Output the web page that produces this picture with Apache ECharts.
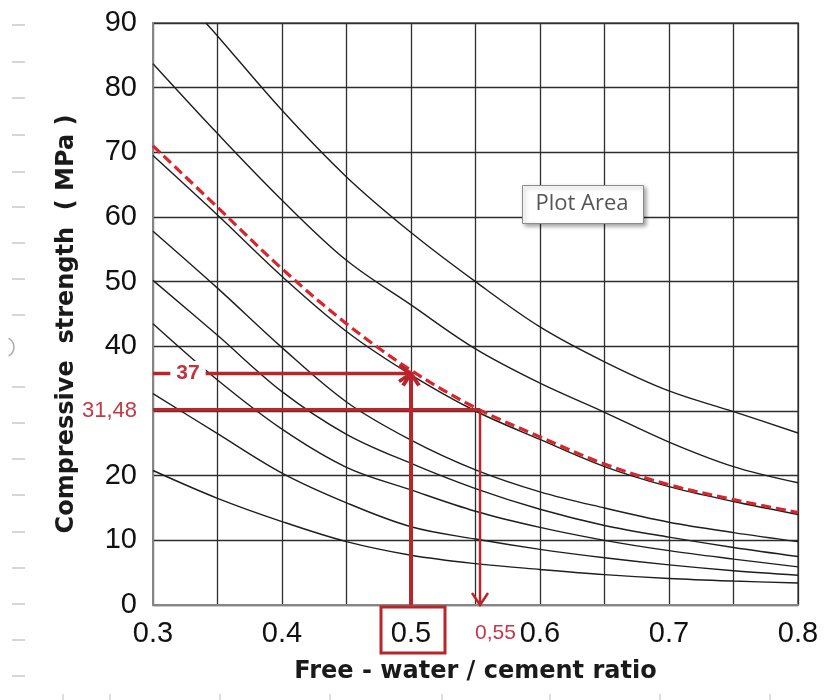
<!DOCTYPE html>
<html><head><meta charset="utf-8">
<script src="https://cdn.jsdelivr.net/npm/echarts@6/dist/echarts.min.js"></script>
<style>html,body{margin:0;padding:0;background:#fff}#chart{width:833px;height:700px}</style>
</head><body><div id="chart"></div>
<script>
// ---- data ----
const ratio = [0.3, 0.35, 0.4, 0.45, 0.5, 0.55, 0.6, 0.65, 0.7, 0.75, 0.8];
const ratioTop = [0.341, 0.35, 0.4, 0.45, 0.5, 0.55, 0.6, 0.65, 0.7, 0.75, 0.8];
const curveA = [90, 88, 76.5, 66.2, 57.6, 50, 43, 37.6, 33.1, 29.9, 26.6];
const curveB = [83.7, 72.9, 62.6, 53.3, 46.4, 39.6, 34.3, 29.8, 25.2, 21.4, 18.9];
const curveC = [69.5, 60.3, 50.8, 42.3, 35.6, 30.0, 25.6, 21.4, 18.3, 16.0, 14.0];
const curveD = [57.8, 49.0, 39.8, 31.4, 25.5, 20.9, 17.5, 15.0, 12.8, 11.2, 9.8];
const curveE = [50.2, 41.7, 33.0, 26.4, 21.9, 18.0, 14.8, 12.3, 10.5, 8.9, 7.5];
const curveF = [43.5, 34.8, 27.2, 21.3, 17.8, 14.5, 12.0, 10.0, 8.4, 7.1, 5.9];
const curveG = [32.7, 26.5, 20.4, 15.8, 12.1, 10.2, 8.6, 7.3, 6.2, 5.3, 4.6];
const curveH = [20.8, 16.5, 12.9, 9.8, 7.7, 6.4, 5.5, 4.7, 4.1, 3.7, 3.4];
const targetCurve = [71, 61.5, 52, 43.5, 36.3, 30.5, 26, 21.8, 18.6, 16.3, 14.3];
const blackCurves = [
  [ratioTop, curveA], [ratio, curveB], [ratio, curveC], [ratio, curveD],
  [ratio, curveE], [ratio, curveF], [ratio, curveG], [ratio, curveH]
];
const xTickLabels = ['0.3', '0.4', '0.5', '0.6', '0.7', '0.8'];
const yTickLabels = ['0', '10', '20', '', '40', '50', '60', '70', '80', '90'];
const ratioRead = 0.5;        // w/c read on the axis
const ratioResult = 0.5535;   // w/c found (drawn position)
const strength37 = 35.8;      // level of the "37" guide as drawn
const strength3148 = 30.2;    // level of the "31,48" guide as drawn
const guideLabels = ['37', '31,48', '0,55'];
const xTitle = 'Free - water / cement ratio';
const yTitle = 'Compressive  strength  ( MPa )';

const zip = (xs, ys) => xs.map((x, i) => [x, ys[i]]);

// guide segments: [x1, y1, x2, y2, arrowAtEnd]
const guideData = [
  [0.3, strength37, ratioRead, strength37, 1],
  [ratioRead, 0, ratioRead, strength37, 1],
  [0.3, strength3148, ratioResult, strength3148, 0],
  [ratioResult, strength3148, ratioResult, 0, 1]
];

const RED = '#b8252b';
function renderGuide(params, api) {
  const i = params.dataIndex;
  const p1 = api.coord([api.value(0), api.value(1)]);
  const p2 = api.coord([api.value(2), api.value(3)]);
  const widths = [3.5, 4, 3.5, 2.5];
  const lw = widths[i];
  const children = [{
    type: 'line', shape: {x1: p1[0], y1: p1[1], x2: p2[0], y2: p2[1]},
    style: {stroke: RED, lineWidth: lw}
  }];
  if (api.value(4)) {
    const dx = p2[0] - p1[0], dy = p2[1] - p1[1];
    const len = Math.hypot(dx, dy), ux = dx / len, uy = dy / len;
    const L = 12, W = 8;
    children.push({
      type: 'polyline',
      shape: {points: [[p2[0] - ux * L - uy * W, p2[1] - uy * L + ux * W], [p2[0], p2[1]], [p2[0] - ux * L + uy * W, p2[1] - uy * L - ux * W]]},
      style: {stroke: RED, lineWidth: lw, fill: null}
    });
  }
  if (i === 0) {
    children.push({type: 'text', x: p1[0] + 35, y: p1[1],
      style: {text: guideLabels[0], align: 'center', verticalAlign: 'middle', fill: '#c0343b',
        font: 'bold 21px "Liberation Sans", Arial, sans-serif', backgroundColor: '#fff', padding: [2, 6, 2, 6]}});
  }
  if (i === 2) {
    children.push({type: 'text', x: p1[0] - 16, y: p1[1] + 1,
      style: {text: guideLabels[1], align: 'right', verticalAlign: 'middle', fill: '#c23a44',
        font: '22px "Liberation Sans", Arial, sans-serif'}});
  }
  if (i === 3) {
    children.push({type: 'text', x: p2[0] + 17, y: p2[1] + 28,
      style: {text: guideLabels[2], align: 'center', verticalAlign: 'middle', fill: '#c8364a',
        font: '21px "Liberation Sans", Arial, sans-serif', backgroundColor: '#fff', padding: [2, 5, 2, 2]}});
  }
  if (i === 1) {
    children.push({type: 'rect', shape: {x: p1[0] - 30, y: p1[1] + 2, width: 64, height: 46},
      style: {stroke: RED, lineWidth: 3, fill: null}});
  }
  return {type: 'group', children};
}

const series = blackCurves.map(([xs, ys]) => ({
  type: 'line', data: zip(xs, ys), smooth: 0.35, symbol: 'none',
  lineStyle: {color: '#1e1e1e', width: 1.4}, silent: true, z: 3
}));
series.push({
  type: 'line', data: zip(ratio, targetCurve), smooth: 0.35, symbol: 'none',
  lineStyle: {color: '#d9262c', width: 3.2, type: [10, 5]}, z: 4
});
series.push({
  type: 'custom', data: guideData, renderItem: renderGuide, clip: false, z: 6,
  encode: {x: [0, 2], y: [1, 3]}
});

// decoration (outside plot area)
const leftDashY = [25, 62, 98, 135, 172, 207, 243, 279, 315, 387, 423, 459, 495, 532, 568, 604, 640, 676];
const bottomTickX = [63, 110, 220, 330, 442, 550, 660, 770];
const graphic = [];
leftDashY.forEach(y => graphic.push({type: 'line', shape: {x1: 12, y1: y, x2: 25, y2: y}, style: {stroke: '#c8c8c8', lineWidth: 1.5}, silent: true}));
bottomTickX.forEach(x => graphic.push({type: 'line', shape: {x1: x, y1: 694, x2: x, y2: 700}, style: {stroke: '#c8c8c8', lineWidth: 1.2}, silent: true}));
graphic.push({type: 'arc', shape: {cx: 4, cy: 347, r: 10, startAngle: -1.1, endAngle: 1.1}, style: {stroke: '#aaa', lineWidth: 1.5, fill: null}, silent: true});
graphic.push({type: 'rect', left: 522, top: 185, z: 20, shape: {width: 121, height: 38},
  style: {fill: '#fff', stroke: '#8c8c8c', lineWidth: 1, shadowBlur: 4, shadowOffsetX: 2, shadowOffsetY: 2, shadowColor: 'rgba(0,0,0,0.35)'}});
graphic.push({type: 'text', x: 582, y: 204, z: 21,
  style: {text: 'Plot Area', fill: '#555', align: 'center', verticalAlign: 'middle', font: '22px "Open Sans", "Noto Sans", sans-serif'}});

const chart = echarts.init(document.getElementById('chart'), null, {renderer: 'canvas'});
chart.setOption({
  backgroundColor: '#fff',
  animation: false,
  grid: {left: 153, right: 35, top: 23, bottom: 95, show: true, borderColor: '#858585', borderWidth: 2, backgroundColor: 'transparent'},
  xAxis: {
    type: 'value', min: 0.3, max: 0.8, interval: 0.05,
    name: xTitle, nameLocation: 'middle', nameGap: 55,
    nameTextStyle: {fontSize: 24, fontWeight: 'bold', color: '#1a1a1a', fontFamily: '"DejaVu Sans", Verdana, sans-serif'},
    axisLine: {show: true, lineStyle: {color: '#858585', width: 2}},
    axisTick: {show: false},
    splitLine: {show: true, lineStyle: {color: '#2e2e2e', width: 1.3}},
    axisLabel: {
      margin: 14, fontSize: 29, color: '#111', fontFamily: '"Liberation Sans", Arial, sans-serif',
      showMinLabel: true, showMaxLabel: true,
      formatter: v => { const k = Math.round(v * 100); return k % 10 === 0 ? xTickLabels[(k - 30) / 10] : ''; }
    }
  },
  yAxis: {
    type: 'value', min: 0, max: 90, interval: 10,
    name: yTitle, nameLocation: 'middle', nameGap: 74, nameRotate: 90,
    nameTextStyle: {fontSize: 24, fontWeight: 'bold', color: '#1a1a1a', fontFamily: '"DejaVu Sans", Verdana, sans-serif', padding: [0, 20, 0, 0]},
    axisLine: {show: true, lineStyle: {color: '#858585', width: 2}},
    axisTick: {show: false},
    splitLine: {show: true, lineStyle: {color: '#2e2e2e', width: 1.3}},
    axisLabel: {
      margin: 16, fontSize: 29, color: '#111', fontFamily: '"Liberation Sans", Arial, sans-serif',
      formatter: v => yTickLabels[Math.round(v / 10)]
    }
  },
  series,
  graphic
});
</script></body></html>
